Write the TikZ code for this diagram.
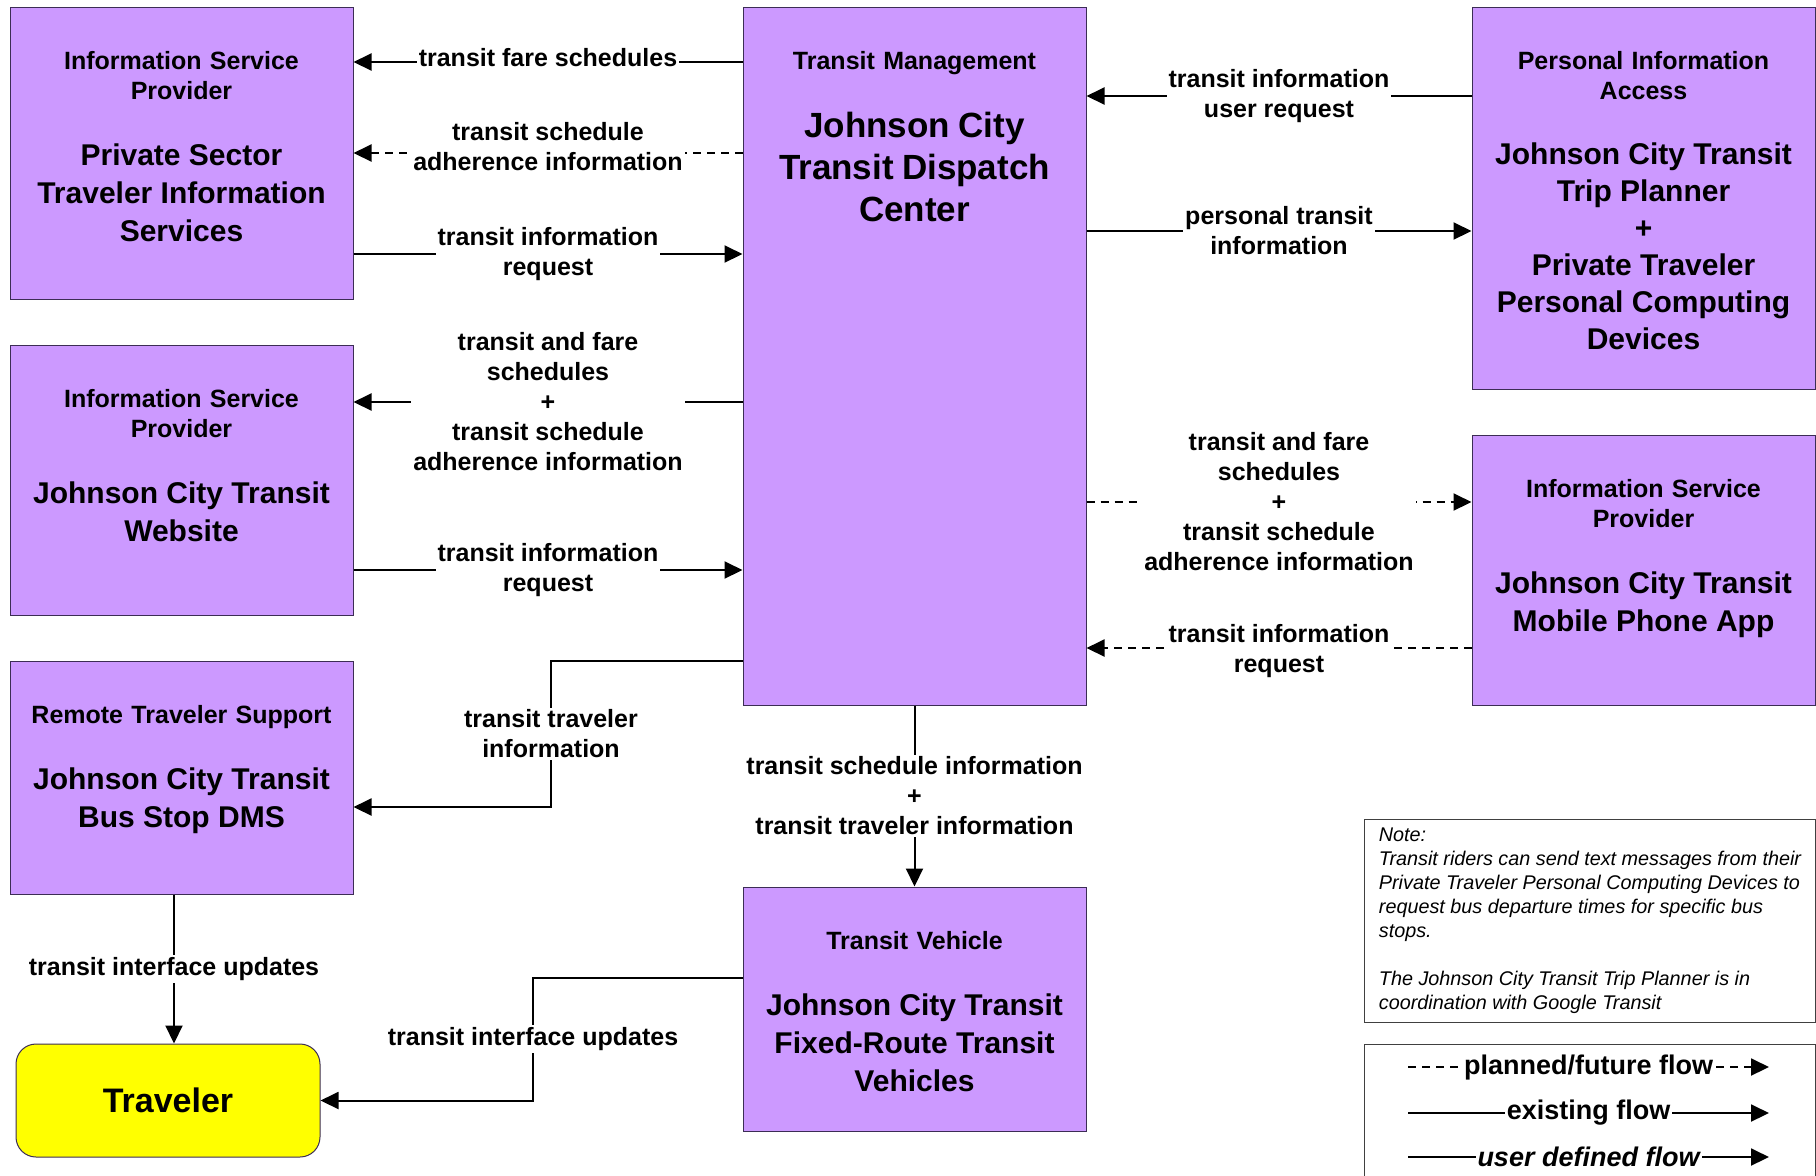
\documentclass[tikz,border=0pt]{standalone}
\usepackage{fontspec}
\setmainfont{Liberation Sans}
\usetikzlibrary{positioning, arrows.meta}
\definecolor{sysfill}{HTML}{CC99FF}
\definecolor{sysline}{HTML}{3C2D55}
\definecolor{travfill}{HTML}{FFFF00}
\newcommand{\jcttlfont}{\fontsize{12.5}{15}\selectfont\bfseries}
\newcommand{\jcnamefont}{\fontsize{15}{19}\selectfont\bfseries}
\newcommand{\jcbignamefont}{\fontsize{17.5}{21}\selectfont\bfseries}
\newcommand{\jcnotefont}{\fontsize{9.9}{12}\selectfont\itshape}
\newcommand{\jclegfont}{\fontsize{13.5}{16}\selectfont\bfseries}

\begin{document}
\begin{tikzpicture}[x=0.5pt, y=-0.5pt,
	sysbox/.style={shape=rectangle, draw=sysline, line width=0.5pt, fill=sysfill, inner sep=0pt, minimum width=171.5pt},
	boxtitle/.style={align=center, text width=165pt, inner sep=0pt, font=\jcttlfont},
	flow/.style={line width=1pt, -{Triangle[length=9pt, width=8.5pt]}},
	planned/.style={flow, dash pattern=on 4pt off 3pt},
	flowlabel/.style={fill=white, inner sep=1pt, align=center, font=\jcttlfont},
	notebox/.style={shape=rectangle, draw=black!75, line width=0.5pt, fill=white}]
	\useasboundingbox (0, 0) rectangle (1816, 1175);
	% Boxes and titles:
	\node[sysbox, minimum height=146pt] (isp1) at (181.5, 153){};
	\node[boxtitle, below=22pt of isp1.north] (isp1text){Information Service\\Provider\par\vspace{14pt}{\jcnamefont Private Sector\\Traveler Information\\Services\par}};
	\node[sysbox, minimum height=135pt] (web) at (181.5, 480){};
	\node[boxtitle, below=22pt of web.north] (webtext){Information Service\\Provider\par\vspace{14pt}{\jcnamefont Johnson City Transit\\Website\par}};
	\node[sysbox, minimum height=116.5pt] (rts) at (181.5, 777.5){};
	\node[boxtitle, below=22pt of rts.north] (rtstext){Remote Traveler Support\par\vspace{14pt}{\jcnamefont Johnson City Transit\\Bus Stop DMS\par}};
	\node[sysbox, fill=travfill, rounded corners=10pt, minimum width=152pt, minimum height=56.5pt, font=\fontsize{17}{20}\selectfont\bfseries] (trav) at (168, 1100.5){Traveler};
	\node[sysbox, minimum height=349pt] (tm) at (914.5, 356){};
	\node[boxtitle, below=22pt of tm.north] (tmtext){Transit Management\par\vspace{13pt}{\jcbignamefont Johnson City\\Transit Dispatch\\Center\par}};
	\node[sysbox, minimum height=122pt] (veh) at (914.5, 1009){};
	\node[boxtitle, below=22pt of veh.north] (vehtext){Transit Vehicle\par\vspace{14pt}{\jcnamefont Johnson City Transit\\Fixed-Route Transit\\Vehicles\par}};
	\node[sysbox, minimum height=191pt] (pia) at (1643.5, 198){};
	\node[boxtitle, below=22pt of pia.north] (piatext){Personal Information\\Access\par\vspace{14pt}{\fontsize{15}{18.5}\selectfont\bfseries Johnson City Transit\\Trip Planner\\+\\Private Traveler\\Personal Computing\\Devices\par}};
	\node[sysbox, minimum height=135pt] (app) at (1643.5, 570){};
	\node[boxtitle, below=22pt of app.north] (apptext){Information Service\\Provider\par\vspace{14pt}{\jcnamefont Johnson City Transit\\Mobile Phone App\par}};
	% Flows:
	\draw[flow] (tm.west |- 0,62) -- node[flowlabel, yshift=2pt]{transit fare schedules} (isp1.east |- 0,62);
	\draw[planned] (tm.west |- 0,153) -- node[flowlabel, yshift=3pt]{transit schedule\\adherence information} (isp1.east |- 0,153);
	\draw[flow] (isp1.east |- 0,254) -- node[flowlabel]{transit information\\request} (tm.west |- 0,254);
	\draw[flow] (tm.west |- 0,402) -- node[flowlabel]{transit and fare\\schedules\\+\\transit schedule\\adherence information} (web.east |- 0,402);
	\draw[flow] (web.east |- 0,570) -- node[flowlabel]{transit information\\request} (tm.west |- 0,570);
	\draw[flow] (tm.west |- 0,661) -| (551, 734) node[flowlabel]{transit traveler\\information} |- (rts.east |- 0,807);
	\draw[flow] (tm.south) -- node[flowlabel]{transit schedule information\\+\\transit traveler information} (veh.north);
	\draw[flow] (rts.south -| 174,0) -- node[flowlabel]{transit interface updates} (trav.north -| 174,0);
	\draw[flow] (veh.west |- 0,978) -| (533, 1039) node[flowlabel]{transit interface updates} |- (trav.east);
	\draw[flow] (pia.west |- 0,96) -- node[flowlabel]{transit information\\user request} (tm.east |- 0,96);
	\draw[flow] (tm.east |- 0,231) -- node[flowlabel]{personal transit\\information} (pia.west |- 0,231);
	\draw[planned] (tm.east |- 0,502) -- node[flowlabel]{transit and fare\\schedules\\+\\transit schedule\\adherence information} (app.west |- 0,502);
	\draw[planned] (app.west |- 0,648) -- node[flowlabel, yshift=-1.5pt]{transit information\\request} (tm.east |- 0,648);
	% Note and legend:
	\node[notebox, anchor=north west, minimum width=225.5pt, minimum height=101.5pt, inner xsep=5.5pt, align=left, font=\jcnotefont] (note) at (1364, 819){Note:\\Transit riders can send text messages from their\\Private Traveler Personal Computing Devices to\\request bus departure times for specific bus\\stops.\\[12pt]The Johnson City Transit Trip Planner is in\\coordination with Google Transit};
	\node[notebox, anchor=north west, minimum width=225.5pt, minimum height=70pt] (legend) at (1364, 1044){};
	\draw[planned] (1408, 1067) -- node[flowlabel, font=\jclegfont]{planned/future flow} (1769, 1067);
	\draw[flow] (1408, 1113) -- node[flowlabel, font=\jclegfont]{existing flow} (1769, 1113);
	\draw[flow] (1408, 1157) -- node[flowlabel, font=\jclegfont\itshape]{user defined flow} (1769, 1157);
\end{tikzpicture}
\end{document}
